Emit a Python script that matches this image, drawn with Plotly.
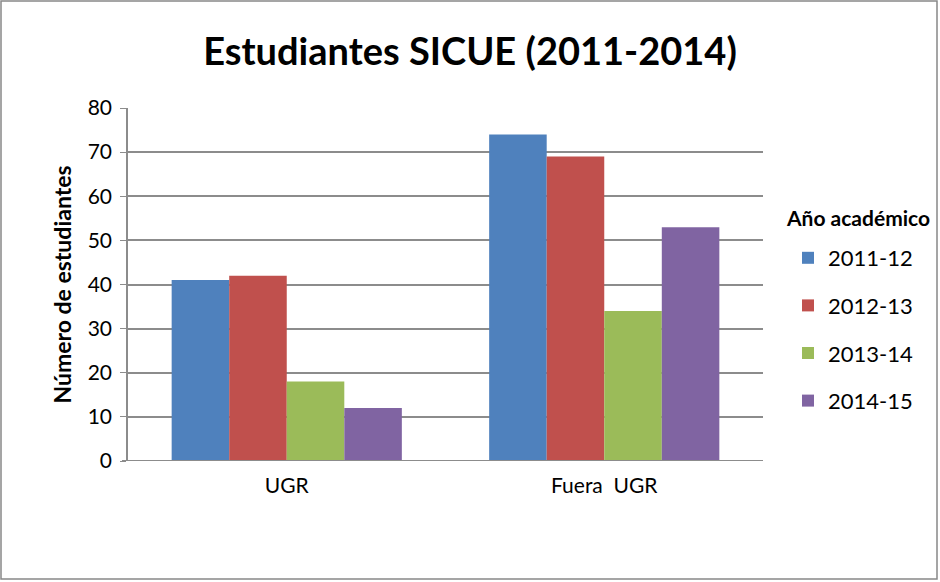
import plotly.graph_objects as go

categories = ["UGR", "Fuera  UGR"]
series_names = ["2011-12", "2012-13", "2013-14", "2014-15"]
values_2011 = [41, 74]
values_2012 = [42, 69]
values_2013 = [18, 34]
values_2014 = [12, 53]
colors = ["#4F81BD", "#C0504D", "#9BBB59", "#8064A2"]
y_ticks = [0, 10, 20, 30, 40, 50, 60, 70, 80]
legend_title = "Año académico"

W, H = 940, 582
L, R, T, B = 128, 177, 108, 121

fig = go.Figure()
for name, vals, col in zip(series_names, [values_2011, values_2012, values_2013, values_2014], colors):
    fig.add_trace(go.Bar(x=categories, y=vals, name=name, marker=dict(color=col, line=dict(width=0)),
                         legendgroup=name))

font = "Lato, 'Open Sans', sans-serif"
pw = W - L - R
ph = H - T - B
fig.update_layout(
    width=W, height=H,
    margin=dict(l=L, r=R, t=T, b=B),
    paper_bgcolor="white", plot_bgcolor="white",
    bargap=0.275, bargroupgap=0,
    font=dict(family=font, size=21, color="black"),
    title=dict(text="<b>Estudiantes SICUE (2011-2014)</b>", x=0.5, xanchor="center",
               y=1 - 52 / H, yanchor="middle", font=dict(size=38, family=font)),
    xaxis=dict(showgrid=False, showline=False, ticks="", tickfont=dict(size=21),
               ticklabelstandoff=10),
    yaxis=dict(range=[0, 80], tickvals=y_ticks, showgrid=True, gridcolor="#8C8C8C", gridwidth=1.5,
               showline=True, linecolor="#8C8C8C", linewidth=1.5, ticks="outside", ticklen=6,
               tickcolor="#8C8C8C", zeroline=False, tickfont=dict(size=21), ticklabelstandoff=4,
               title=dict(text="<b>Número de estudiantes</b>", font=dict(size=23), standoff=10)),
    legend=dict(x=(788 - L) / pw, xanchor="left", y=1 - (237 - T) / ph, yanchor="top",
                tracegroupgap=16, font=dict(size=22), bgcolor="rgba(0,0,0,0)"),
    showlegend=True,
)
fig.add_annotation(text="<b>" + legend_title + "</b>", xref="paper", yref="paper",
                   x=(858 - L) / pw, y=1 - (217 - T) / ph, xanchor="center", yanchor="middle",
                   showarrow=False, font=dict(size=21))
# baseline
fig.add_shape(type="line", xref="paper", yref="y", x0=-6 / pw, x1=1, y0=0, y1=0,
              line=dict(color="#8C8C8C", width=2))
# outer chart border
fig.add_shape(type="rect", xref="paper", yref="paper",
              x0=(1 - L) / pw, x1=(W - 3 - L) / pw, y0=-(H - 3 - T - ph) / ph, y1=1 + (T - 1) / ph,
              line=dict(color="#888888", width=1.5), fillcolor="rgba(0,0,0,0)")
fig.write_html("out.html", config={"displayModeBar": False},
               post_script="document.body.style.margin='0';document.body.style.overflow='hidden';")
